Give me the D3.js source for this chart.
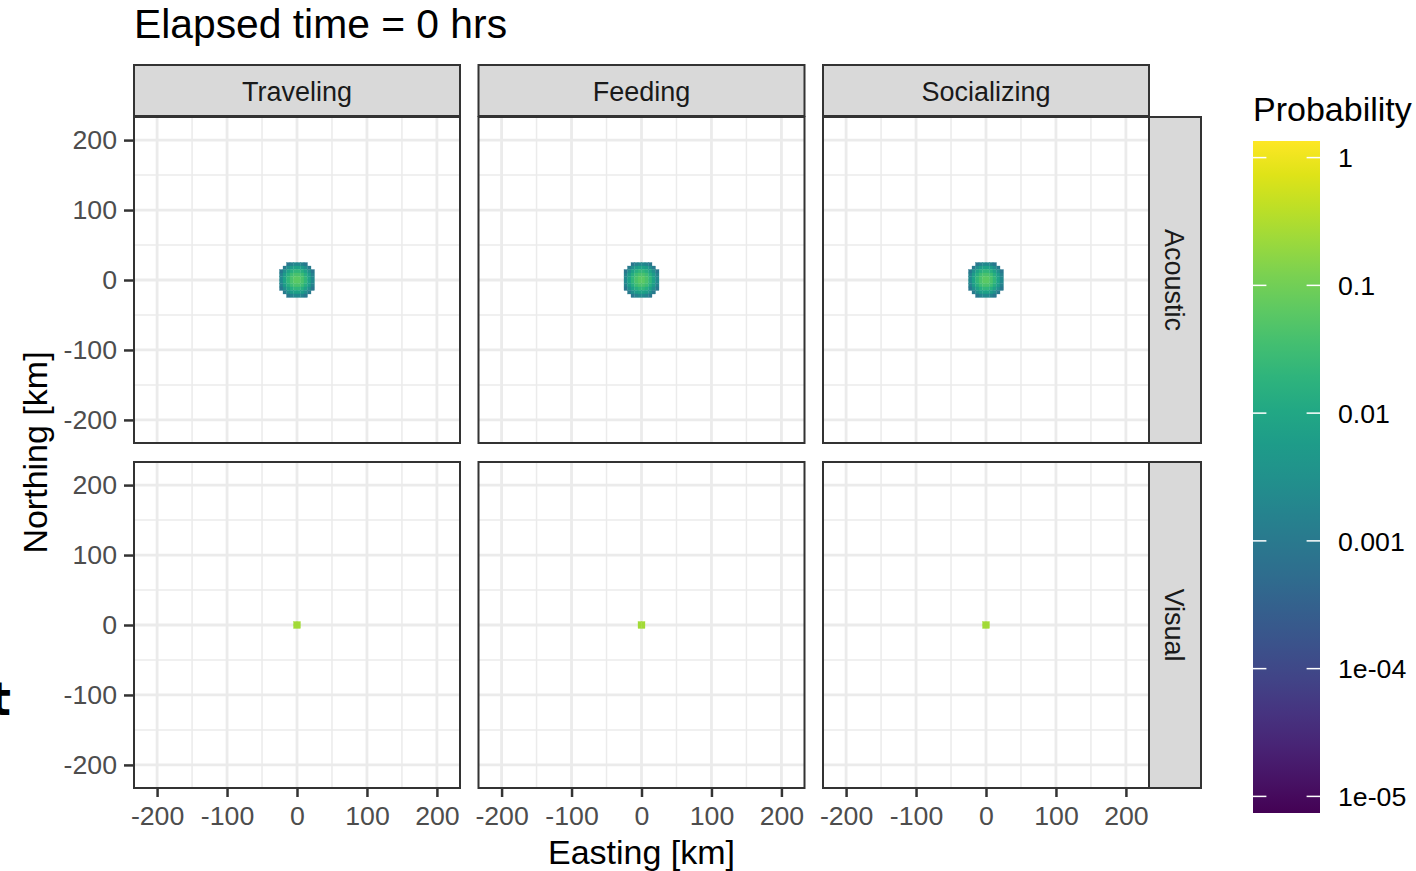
<!DOCTYPE html>
<html>
<head>
<meta charset="utf-8">
<script src="https://cdn.jsdelivr.net/npm/d3@7"></script>
<style>
    body { margin: 0; background: #fff; }
    text { font-family: "Liberation Sans", Arial, Helvetica, sans-serif; }
</style>
</head>
<body>
<svg id="chart"></svg>
<script>
// Facet levels
const behaviours = ["Traveling", "Feeding", "Socializing"];
const detections = ["Acoustic", "Visual"];

// Axis breaks (km)
const majorBreaks = [-200, -100, 0, 100, 200];
const minorBreaks = [-150, -50, 50, 150];

// Legend breaks
const legendBreaks = [1, 0.1, 0.01, 0.001, 1e-4, 1e-5];
const legendLabels = ["1", "0.1", "0.01", "0.001", "1e-04", "1e-05"];

// Cell centres (km) of the 5 km raster around the start point
const cellX = [-22.5, -17.5, -12.5, -7.5, -2.5, 2.5, 7.5, 12.5, 17.5, 22.5];
const cellY = [22.5, 17.5, 12.5, 7.5, 2.5, -2.5, -7.5, -12.5, -17.5, -22.5];

// Acoustic detection: probability per cell (null = no value)
const acousticProb = [
    [null, null, 0.0009, 0.0016, 0.0022, 0.0022, 0.0016, 0.0009, null, null],
    [null, 0.0011, 0.0029, 0.0058, 0.0080, 0.0080, 0.0058, 0.0029, 0.0011, null],
    [0.0009, 0.0029, 0.0075, 0.015, 0.021, 0.021, 0.015, 0.0075, 0.0029, 0.0009],
    [0.0016, 0.0058, 0.015, 0.030, 0.042, 0.042, 0.030, 0.015, 0.0058, 0.0016],
    [0.0022, 0.0080, 0.021, 0.042, 0.060, 0.060, 0.042, 0.021, 0.0080, 0.0022],
    [0.0022, 0.0080, 0.021, 0.042, 0.060, 0.060, 0.042, 0.021, 0.0080, 0.0022],
    [0.0016, 0.0058, 0.015, 0.030, 0.042, 0.042, 0.030, 0.015, 0.0058, 0.0016],
    [0.0009, 0.0029, 0.0075, 0.015, 0.021, 0.021, 0.015, 0.0075, 0.0029, 0.0009],
    [null, 0.0011, 0.0029, 0.0058, 0.0080, 0.0080, 0.0058, 0.0029, 0.0011, null],
    [null, null, 0.0009, 0.0016, 0.0022, 0.0022, 0.0016, 0.0009, null, null]
];

// Visual detection: only the four central cells
const visualX = [-2.5, 2.5];
const visualY = [2.5, -2.5];
const visualProb = [
    [0.25, 0.25],
    [0.25, 0.25]
];

const cellSize = 5;

// ---------------------------------------------------------------
const width = 1416;
const height = 871;

const svg = d3.select('#chart')
    .attr('width', width)
    .attr('height', height);

// Panel geometry
const panelLeft = 134;
const panelTop = 117;
const panelW = 326;
const panelH = 326;
const colGap = 18.5;
const rowGap = 19;
const stripSize = 51;

const domainKm = [-233, 233];

// Viridis on log10 probability
const logDomain = [-5.13, 0.13];
const color = d3.scaleSequential(d3.interpolateViridis).domain(logDomain);

// Turns a matrix + centres into a flat list of cells
function toCells(xs, ys, matrix) {
    let cells = [];
    matrix.forEach((row, i) => {
        row.forEach((v, j) => {
            if (v !== null) cells.push({ x: xs[j], y: ys[i], p: v });
        });
    });
    return cells;
}

const cellsByDetection = {
    "Acoustic": toCells(cellX, cellY, acousticProb),
    "Visual": toCells(visualX, visualY, visualProb)
};

// Title
svg.append('text')
    .attr('x', 134)
    .attr('y', 38)
    .attr('font-size', 40.8)
    .attr('fill', '#000')
    .text('Elapsed time = 0 hrs');

// Stray glyph cut off at the left edge (as in the source image)
svg.append('text')
    .attr('x', -11)
    .attr('y', 715)
    .attr('font-size', 46)
    .attr('font-weight', 'bold')
    .style('font-family', '"DejaVu Sans", sans-serif')
    .attr('fill', '#000')
    .text('t');

detections.forEach((det, r) => {
    behaviours.forEach((beh, c) => {
        const x0 = panelLeft + c * (panelW + colGap);
        const y0 = panelTop + r * (panelH + rowGap);

        const x = d3.scaleLinear().domain(domainKm).range([x0, x0 + panelW]);
        const y = d3.scaleLinear().domain(domainKm).range([y0 + panelH, y0]);

        const g = svg.append('g');

        g.append('rect')
            .attr('x', x0).attr('y', y0)
            .attr('width', panelW).attr('height', panelH)
            .attr('fill', '#fff');

        // Minor grid
        g.selectAll('.minx').data(minorBreaks).enter().append('line')
            .attr('x1', d => x(d)).attr('x2', d => x(d))
            .attr('y1', y0).attr('y2', y0 + panelH)
            .attr('stroke', '#ebebeb').attr('stroke-width', 1.5);
        g.selectAll('.miny').data(minorBreaks).enter().append('line')
            .attr('y1', d => y(d)).attr('y2', d => y(d))
            .attr('x1', x0).attr('x2', x0 + panelW)
            .attr('stroke', '#ebebeb').attr('stroke-width', 1.5);

        // Major grid
        g.selectAll('.majx').data(majorBreaks).enter().append('line')
            .attr('x1', d => x(d)).attr('x2', d => x(d))
            .attr('y1', y0).attr('y2', y0 + panelH)
            .attr('stroke', '#ebebeb').attr('stroke-width', 2.8);
        g.selectAll('.majy').data(majorBreaks).enter().append('line')
            .attr('y1', d => y(d)).attr('y2', d => y(d))
            .attr('x1', x0).attr('x2', x0 + panelW)
            .attr('stroke', '#ebebeb').attr('stroke-width', 2.8);

        // Raster cells
        g.selectAll('.cell').data(cellsByDetection[det]).enter().append('rect')
            .attr('x', d => x(d.x - cellSize / 2))
            .attr('y', d => y(d.y + cellSize / 2))
            .attr('width', d => x(d.x + cellSize / 2) - x(d.x - cellSize / 2))
            .attr('height', d => y(d.y - cellSize / 2) - y(d.y + cellSize / 2))
            .attr('fill', d => color(Math.log10(d.p)))
            .attr('stroke', d => color(Math.log10(d.p)))
            .attr('stroke-width', 0.3);

        // Panel border
        g.append('rect')
            .attr('x', x0).attr('y', y0)
            .attr('width', panelW).attr('height', panelH)
            .attr('fill', 'none')
            .attr('stroke', '#333').attr('stroke-width', 2);

        // Top strips
        if (r === 0) {
            g.append('rect')
                .attr('x', x0).attr('y', y0 - stripSize - 1)
                .attr('width', panelW).attr('height', stripSize)
                .attr('fill', '#d9d9d9')
                .attr('stroke', '#333').attr('stroke-width', 2);
            g.append('text')
                .attr('x', x0 + panelW / 2)
                .attr('y', y0 - 1 - stripSize / 2)
                .attr('dy', '.4em')
                .attr('text-anchor', 'middle')
                .attr('font-size', 27)
                .attr('fill', '#1a1a1a')
                .text(beh);
        }

        // Right strips
        if (c === behaviours.length - 1) {
            const sx = x0 + panelW;
            g.append('rect')
                .attr('x', sx).attr('y', y0)
                .attr('width', stripSize + 1).attr('height', panelH)
                .attr('fill', '#d9d9d9')
                .attr('stroke', '#333').attr('stroke-width', 2);
            g.append('text')
                .attr('transform', `translate(${sx + 26},${y0 + panelH / 2}) rotate(90)`)
                .attr('dy', '.36em')
                .attr('text-anchor', 'middle')
                .attr('font-size', 27)
                .attr('fill', '#1a1a1a')
                .text(det);
        }

        // Left axis
        if (c === 0) {
            const ax = svg.append('g')
                .attr('transform', `translate(${x0},0)`)
                .call(d3.axisLeft(y).tickValues(majorBreaks).tickSize(10).tickPadding(7)
                    .tickFormat(d => String(d)));
            styleAxis(ax);
        }

        // Bottom axis
        if (r === detections.length - 1) {
            const ax = svg.append('g')
                .attr('transform', `translate(0,${y0 + panelH})`)
                .call(d3.axisBottom(x).tickValues(majorBreaks).tickSize(9).tickPadding(9)
                    .tickFormat(d => String(d)));
            styleAxis(ax);
        }
    });
});

function styleAxis(ax) {
    ax.select('.domain').remove();
    ax.selectAll('.tick line').attr('stroke', '#333').attr('stroke-width', 2.5);
    ax.selectAll('.tick text')
        .attr('font-size', 26.7)
        .attr('fill', '#4d4d4d')
        .style('font-family', '"Liberation Sans", Arial, Helvetica, sans-serif');
}

// Axis titles
const panelsRight = panelLeft + 3 * panelW + 2 * colGap;
svg.append('text')
    .attr('x', (panelLeft + panelsRight) / 2)
    .attr('y', 864)
    .attr('text-anchor', 'middle')
    .attr('font-size', 34)
    .attr('fill', '#000')
    .text('Easting [km]');

svg.append('text')
    .attr('transform', `translate(47,${panelTop + (2 * panelH + rowGap) / 2}) rotate(-90)`)
    .attr('text-anchor', 'middle')
    .attr('font-size', 34)
    .attr('fill', '#000')
    .text('Northing [km]');

// Colour bar legend
const barX = 1253;
const barW = 67;
const barTop = 141;
const barBottom = 813;

const legendScale = d3.scaleLog()
    .domain([Math.pow(10, logDomain[0]), Math.pow(10, logDomain[1])])
    .range([barBottom, barTop]);

const grad = svg.append('defs').append('linearGradient')
    .attr('id', 'viridisBar')
    .attr('x1', 0).attr('x2', 0).attr('y1', 1).attr('y2', 0);
d3.range(0, 1.0001, 0.05).forEach(t => {
    grad.append('stop')
        .attr('offset', t)
        .attr('stop-color', d3.interpolateViridis(t));
});

svg.append('text')
    .attr('x', barX)
    .attr('y', 121)
    .attr('font-size', 34)
    .attr('fill', '#000')
    .text('Probability');

svg.append('rect')
    .attr('x', barX).attr('y', barTop)
    .attr('width', barW).attr('height', barBottom - barTop)
    .attr('fill', 'url(#viridisBar)');

const legendTicks = svg.append('g').selectAll('g')
    .data(legendBreaks)
    .enter().append('g')
    .attr('transform', d => `translate(0,${legendScale(d)})`);

legendTicks.append('line')
    .attr('x1', barX).attr('x2', barX + barW / 5)
    .attr('stroke', '#fff').attr('stroke-width', 1.5);
legendTicks.append('line')
    .attr('x1', barX + barW * 4 / 5).attr('x2', barX + barW)
    .attr('stroke', '#fff').attr('stroke-width', 1.5);
legendTicks.append('text')
    .attr('x', 1338)
    .attr('dy', '.36em')
    .attr('font-size', 26.7)
    .attr('fill', '#000')
    .text((d, i) => legendLabels[i]);
</script>
</body>
</html>
